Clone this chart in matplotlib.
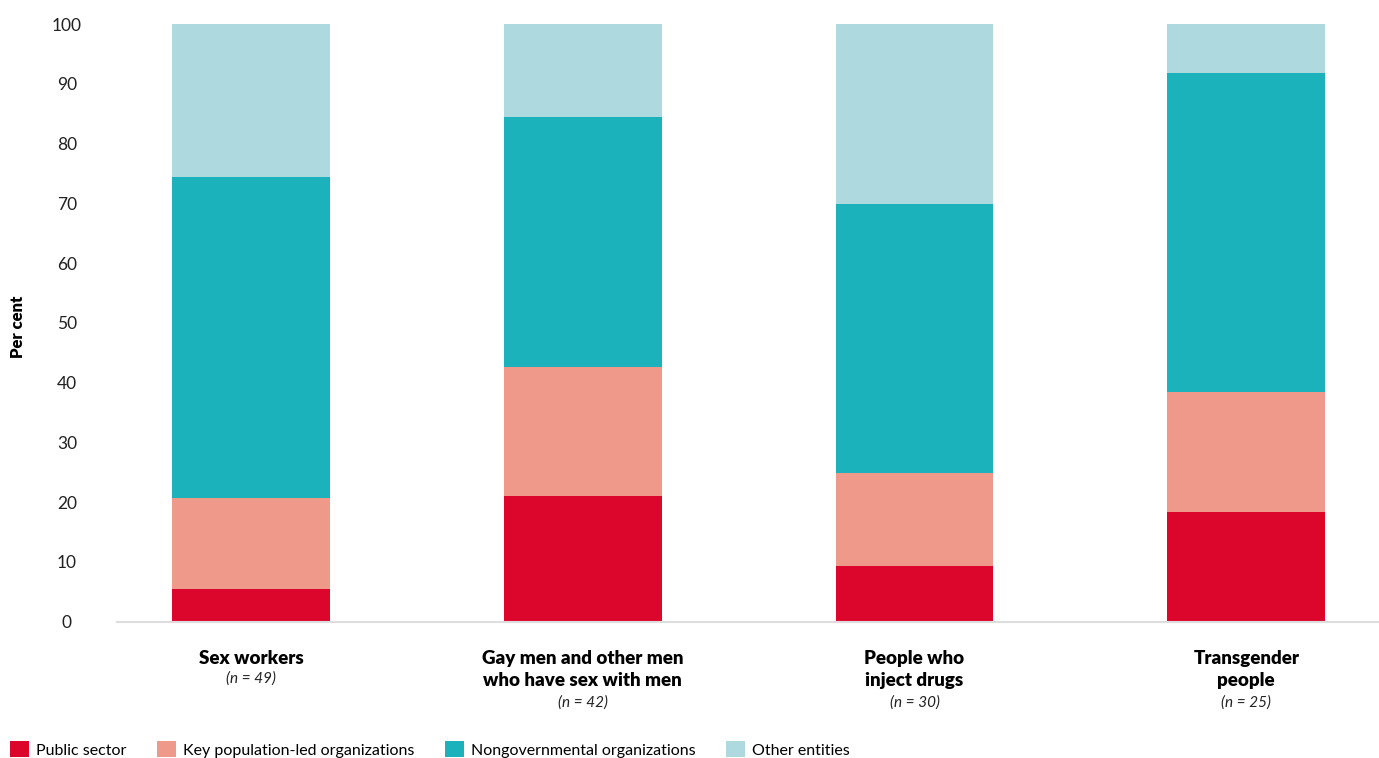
import numpy as np
import matplotlib
matplotlib.use('Agg')
from matplotlib import pyplot as plt
from matplotlib.patches import Patch

groups = ['Sex workers', 'Gay men and other men\nwho have sex with men',
          'People who\ninject drugs', 'Transgender\npeople']
sizes = ['(n = 49)', '(n = 42)', '(n = 30)', '(n = 25)']

series_names = ['Public sector', 'Key population-led organizations',
                'Nongovernmental organizations', 'Other entities']
public_sector = [5.4, 21.0, 9.3, 18.3]
key_population_led = [15.3, 21.6, 15.6, 20.1]
nongovernmental = [53.7, 41.9, 44.9, 53.4]
other_entities = [25.6, 15.5, 30.2, 8.2]
colors = ['#DC062D', '#EF998A', '#1CB2BB', '#AED9DF']

plt.rcParams['font.family'] = ['Lato', 'DejaVu Sans']

fig = plt.figure(figsize=(13.79, 7.58), dpi=100)
ax = fig.add_axes([0.0848, 0.1800, 0.9152, 0.7883])

x = np.arange(len(groups))
bottom = np.zeros(len(groups))
for name, vals, c in zip(series_names,
                         [public_sector, key_population_led, nongovernmental, other_entities],
                         colors):
    ax.bar(x, vals, width=0.476, bottom=bottom, color=c, label=name, zorder=2)
    bottom += np.array(vals)

ax.set_xlim(-0.404, 3.40)
ax.set_ylim(0, 100)
ax.set_yticks(range(0, 101, 10))
ax.tick_params(axis='y', length=0, labelsize=12.5, pad=36, labelcolor='#222222')
for lbl in ax.get_yticklabels():
    lbl.set_horizontalalignment('center')
ax.set_xticks([])
for s in ['top', 'right', 'left']:
    ax.spines[s].set_visible(False)
ax.spines['bottom'].set_color('#dddddd')
ax.spines['bottom'].set_linewidth(1.5)

fig.text(0.013, 0.569, 'Per cent', rotation=90, fontsize=12, fontweight='heavy',
         ha='center', va='center')

for xi, g, n in zip(x, groups, sizes):
    ax.annotate(g, xy=(xi, 0), xycoords=('data', 'axes fraction'),
                xytext=(0, -20.5), textcoords='offset points', ha='center', va='top',
                fontsize=13.5, fontweight='heavy', linespacing=1.38)
    nlines = g.count('\n') + 1
    ax.annotate(n, xy=(xi, 0), xycoords=('data', 'axes fraction'),
                xytext=(0, -19 - 17 * nlines), textcoords='offset points',
                ha='center', va='top', fontsize=11, style='italic', color='#222222')

handles = [Patch(facecolor=c, edgecolor='none') for c in colors]
fig.legend(handles, series_names, loc='lower left', bbox_to_anchor=(0.0, -0.012),
           ncol=4, frameon=False, fontsize=11.5, handlelength=1.2, handleheight=1.2,
           handletextpad=0.45, columnspacing=1.9, borderaxespad=0.2)

fig.savefig('out.png', dpi=100)
